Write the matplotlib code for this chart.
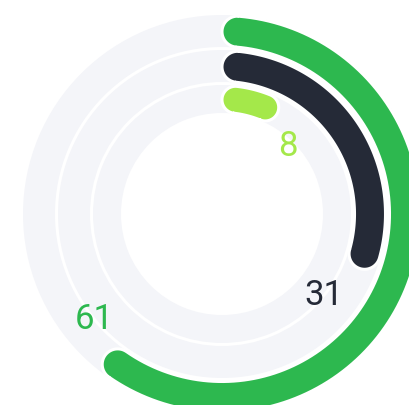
import numpy as np
import matplotlib.pyplot as plt
from matplotlib.patches import Wedge, Polygon

# series, outermost ring first
values = [61, 31, 8]
colors = ["#2DB84F", "#252A37", "#A4E84A"]
label_colors = ["#2DB84F", "#252A37", "#A4E84A"]
# how far past the end of each bar its number sits, in degrees
label_offset = [12, 15.4, 13.7]

track_color = "#F4F5F9"
cx, cy = 222, 215
# (inner radius, outer radius) of each ring in pixels
rings = [(167, 199), (132, 164), (101, 129)]


def pt(r, a):
    # a is clockwise from 12 o'clock, y grows downward
    return cx + r * np.sin(a), cy - r * np.cos(a)


def rounded_arc(ri, ro, a0, a1, n=120):
    rc = (ri + ro) / 2
    hw = (ro - ri) / 2
    d = hw / rc
    s, e = a0 + d, a1 - d
    pts = [pt(ro, a) for a in np.linspace(s, e, n)]
    # end cap
    u = np.array([np.sin(e), -np.cos(e)])
    t = np.array([np.cos(e), np.sin(e)])
    c = np.array(pt(rc, e))
    for phi in np.linspace(0, np.pi, 30):
        pts.append(tuple(c + hw * (np.cos(phi) * u + np.sin(phi) * t)))
    pts += [pt(ri, a) for a in np.linspace(e, s, n)]
    # start cap
    u = np.array([np.sin(s), -np.cos(s)])
    t = np.array([np.cos(s), np.sin(s)])
    c = np.array(pt(rc, s))
    for phi in np.linspace(np.pi, 2 * np.pi, 30):
        pts.append(tuple(c + hw * (np.cos(phi) * u + np.sin(phi) * t)))
    return np.array(pts)


fig = plt.figure(figsize=(4.10, 4.06), dpi=100)
ax = fig.add_axes([0, 0, 1, 1])
ax.set_xlim(0, 410)
ax.set_ylim(406, 0)
ax.set_aspect("equal")
ax.axis("off")

for (ri, ro), v, c, lc, off in zip(rings, values, colors, label_colors, label_offset):
    ax.add_patch(Wedge((cx, cy), ro, 0, 360, width=ro - ri,
                       facecolor=track_color, edgecolor="none"))
    end = np.deg2rad(v / 100 * 360)
    ax.add_patch(Polygon(rounded_arc(ri + 0.5, ro - 0.5, 0, end), closed=True,
                         facecolor=c, edgecolor="white", linewidth=2.2,
                         joinstyle="round"))
    lx, ly = pt(ri - 4, end + np.deg2rad(off))
    ax.text(lx, ly, str(v), color=lc, fontsize=25, family="Roboto",
            ha="center", va="center_baseline")

fig.savefig("out.png", dpi=100, facecolor="white")
